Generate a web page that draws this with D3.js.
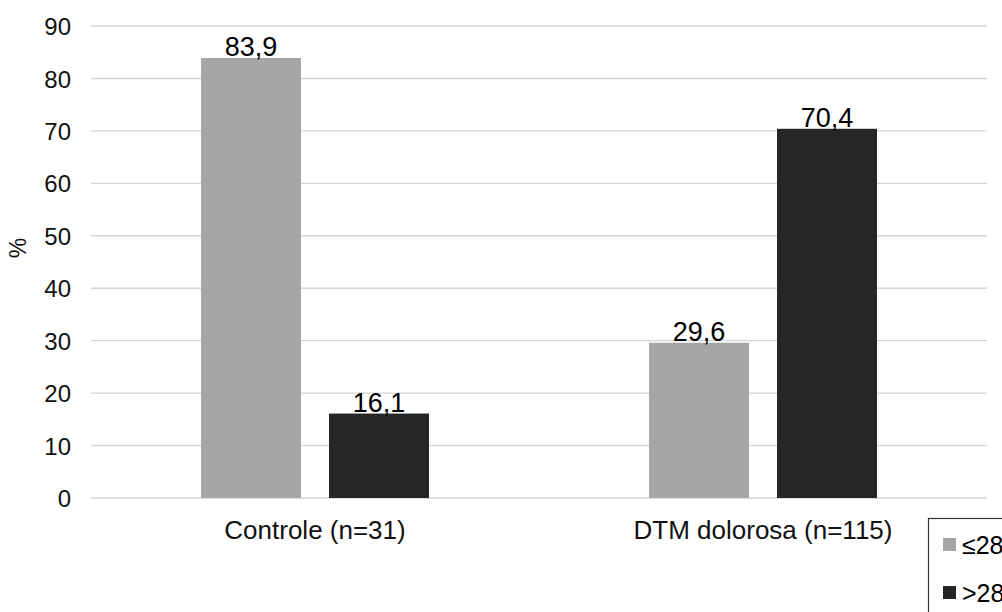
<!DOCTYPE html>
<html>
<head>
<meta charset="utf-8">
<script src="https://cdn.jsdelivr.net/npm/d3@7"></script>
<style>
  html, body { margin: 0; padding: 0; background: #fff; overflow: hidden; }
  svg { display: block; font-family: "Liberation Sans", Arial, sans-serif; }
</style>
</head>
<body>
<svg id="chart" width="1002" height="612"></svg>
<script>
const categories = ["Controle (n=31)", "DTM dolorosa (n=115)"];
const seriesNames = ["≤28", ">28"];
const seriesLow = [83.9, 29.6];
const seriesHigh = [16.1, 70.4];
const yTicks = [0, 10, 20, 30, 40, 50, 60, 70, 80, 90];
const colors = ["#a6a6a6", "#262626"];

const svg = d3.select("#chart");
const plot = { left: 91, right: 987, top: 26, bottom: 498 };

const x0 = d3.scaleBand().domain(categories).range([plot.left, plot.right]).padding(0);
const groupW = 228;
const x1 = d3.scaleBand().domain(seriesNames).range([0, groupW]).paddingInner(28 / 128).paddingOuter(0);
const y = d3.scaleLinear().domain([0, 90]).range([plot.bottom, plot.top]);

// gridlines
svg.append("g")
  .selectAll("line")
  .data(yTicks)
  .join("line")
  .attr("x1", plot.left).attr("x2", plot.right)
  .attr("y1", d => y(d)).attr("y2", d => y(d))
  .attr("stroke", "#d6d6d6")
  .attr("stroke-width", 1.4);

// y axis tick labels
const yAxis = d3.axisLeft(y).tickValues(yTicks).tickSize(0).tickPadding(0).tickFormat(d3.format("d"));
const gy = svg.append("g").attr("transform", "translate(71,0)").call(yAxis);
gy.select(".domain").remove();
gy.selectAll("text")
  .attr("font-size", 24)
  .attr("font-family", "'Liberation Sans', Arial, sans-serif")
  .attr("fill", "#111")
  .attr("dy", "0.36em");

// y axis title
svg.append("text")
  .attr("transform", "translate(26,248) rotate(-90)")
  .attr("text-anchor", "middle")
  .attr("font-size", 23)
  .attr("fill", "#111")
  .text("%");

// bars
const rows = categories.map((c, i) => ({ cat: c, vals: [seriesLow[i], seriesHigh[i]] }));
const groups = svg.append("g")
  .selectAll("g")
  .data(rows)
  .join("g")
  .attr("transform", d => `translate(${x0(d.cat) + (x0.bandwidth() - groupW) / 2},0)`);

groups.selectAll("rect")
  .data(d => d.vals.map((v, j) => ({ s: seriesNames[j], v, j })))
  .join("rect")
  .attr("x", d => x1(d.s))
  .attr("width", x1.bandwidth())
  .attr("y", d => y(d.v))
  .attr("height", d => y(0) - y(d.v))
  .attr("fill", d => colors[d.j]);

groups.selectAll("text")
  .data(d => d.vals.map((v, j) => ({ s: seriesNames[j], v, j })))
  .join("text")
  .attr("x", d => x1(d.s) + x1.bandwidth() / 2)
  .attr("y", d => y(d.v) - 2)
  .attr("text-anchor", "middle")
  .attr("font-size", 27)
  .attr("fill", "#000")
  .text(d => d3.format(".1f")(d.v).replace(".", ","));

// x axis category labels
const xAxis = d3.axisBottom(x0).tickSize(0).tickPadding(0);
const gx = svg.append("g").attr("transform", `translate(0,${plot.bottom})`).call(xAxis);
gx.select(".domain").remove();
gx.selectAll("text")
  .attr("font-size", 26)
  .attr("font-family", "'Liberation Sans', Arial, sans-serif")
  .attr("fill", "#111")
  .attr("dy", null)
  .attr("y", 41);

// legend
const lg = svg.append("g");
lg.append("rect")
  .attr("x", 928.5).attr("y", 518.5)
  .attr("width", 200).attr("height", 200)
  .attr("fill", "#fff")
  .attr("stroke", "#333")
  .attr("stroke-width", 1.2);
const legY = [544.5, 592.5];
seriesNames.forEach((s, i) => {
  lg.append("rect")
    .attr("x", 943).attr("y", legY[i] - 6.5)
    .attr("width", 13).attr("height", 13)
    .attr("fill", colors[i]);
  lg.append("text")
    .attr("x", 962).attr("y", legY[i])
    .attr("dy", "0.36em")
    .attr("font-size", 25)
    .attr("fill", "#000")
    .text(s);
});
</script>
</body>
</html>
